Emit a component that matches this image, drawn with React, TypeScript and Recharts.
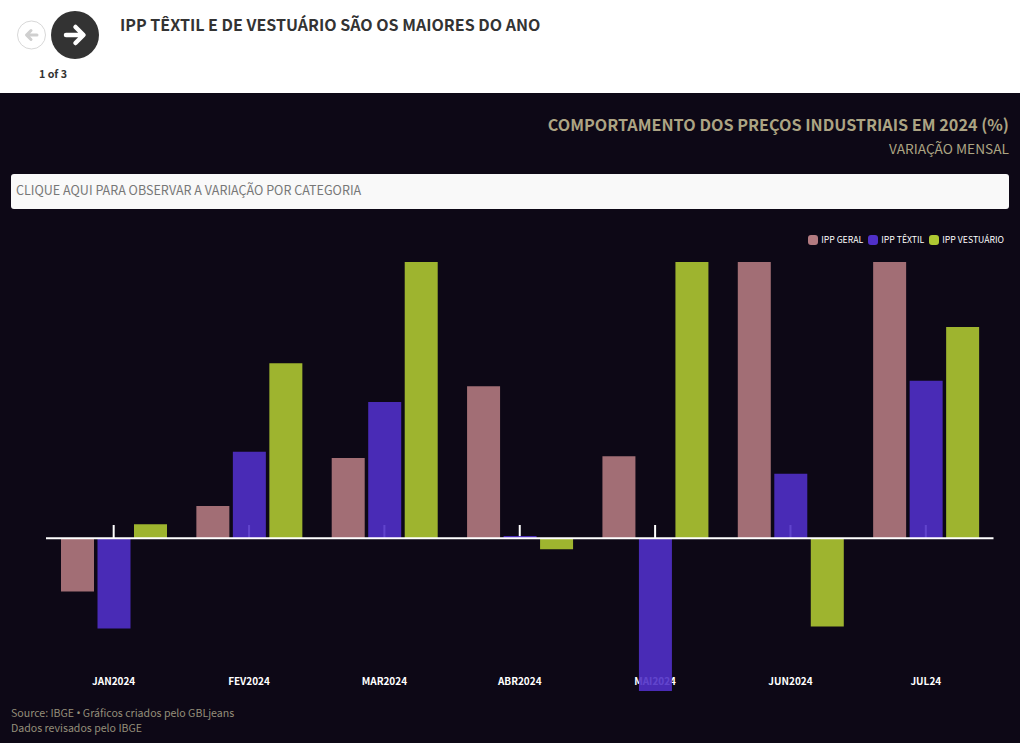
import React from "react";
import { BarChart, Bar, XAxis, YAxis, ReferenceLine, Legend } from "recharts";

const categories = ["JAN2024", "FEV2024", "MAR2024", "ABR2024", "MAI2024", "JUN2024", "JUL24"];
const ippGeral = [-0.29, 0.175, 0.435, 0.825, 0.445, 1.9, 1.62];
const ippTextil = [-0.49, 0.47, 0.74, 0.012, -0.83, 0.35, 0.855];
const ippVestuario = [0.075, 0.95, 1.6, -0.06, 1.7, -0.48, 1.147];
const data = categories.map((mes, i) => ({ mes, geral: ippGeral[i], textil: ippTextil[i], vestuario: ippVestuario[i] }));

const FONT = '"Noto Sans CJK SC", "Noto Sans", sans-serif';
const BG = "#0d0816";
const BASELINE = 538;
const LABEL_Y = 685;
const DOMAIN: [number, number] = [-0.83, 1.5];

const AxisTick = (props: any) => {
  const { x, payload } = props;
  return (
    <g>
      <line x1={x} x2={x} y1={BASELINE - 13} y2={BASELINE} stroke="#ffffff" strokeWidth={2} />
      <text x={x} y={LABEL_Y} textAnchor="middle" fill="#ffffff" fontSize={10} fontWeight={700} fontFamily={FONT}>
        {payload.value}
      </text>
    </g>
  );
};

const LegendContent = (props: any) => (
  <div style={{ display: "flex", justifyContent: "flex-end", alignItems: "center", fontFamily: FONT, fontSize: 8.7, color: "#ffffff" }}>
    {props.payload.map((e: any) => (
      <span key={e.value} style={{ display: "inline-flex", alignItems: "center", marginLeft: 5 }}>
        <span style={{ width: 10, height: 10, borderRadius: 3, background: e.color, marginRight: 3, display: "inline-block" }} />
        {e.value}
      </span>
    ))}
  </div>
);

export default function App() {
  return (
    <div style={{ position: "absolute", left: 0, top: 0, width: 1020, height: 743, overflow: "hidden", background: BG, fontFamily: FONT }}>
      <div style={{ position: "absolute", left: 0, top: 0, width: 1020, height: 93, background: "#ffffff" }}>
        <svg width={110} height={93} style={{ position: "absolute", left: 0, top: 0 }}>
          <circle cx={31.5} cy={35} r={14} fill="#fff" stroke="#d8d8d8" strokeWidth={1} />
          <path d="M37 35 H27 M31 30.5 L26.5 35 L31 39.5" fill="none" stroke="#cfcfcf" strokeWidth={3} strokeLinecap="round" strokeLinejoin="round" />
          <circle cx={75} cy={35} r={24} fill="#333333" />
          <path d="M66 35 H82 M75.5 27 L83.5 35 L75.5 43" fill="none" stroke="#ffffff" strokeWidth={4.5} strokeLinecap="round" strokeLinejoin="round" />
        </svg>
        <div style={{ position: "absolute", left: 39, top: 66, fontSize: 10.7, fontWeight: 700, color: "#333", lineHeight: "15px" }}>1 of 3</div>
        <div style={{ position: "absolute", left: 120, top: 12, fontSize: 16.05, fontWeight: 700, color: "#333", lineHeight: "24px", whiteSpace: "nowrap" }}>
          IPP TÊXTIL E DE VESTUÁRIO SÃO OS MAIORES DO ANO
        </div>
      </div>
      <div style={{ position: "absolute", right: 11, top: 112, fontSize: 16.2, fontWeight: 700, color: "#aca483", lineHeight: "24px", whiteSpace: "nowrap" }}>
        COMPORTAMENTO DOS PREÇOS INDUSTRIAIS EM 2024 (%)
      </div>
      <div style={{ position: "absolute", right: 11, top: 137, fontSize: 13.7, color: "#aca483", lineHeight: "22px", whiteSpace: "nowrap" }}>
        VARIAÇÃO MENSAL
      </div>
      <div style={{ position: "absolute", left: 11, top: 174, width: 993, height: 35, background: "#f9f9f9", borderRadius: 3, color: "#777", fontSize: 12.55, lineHeight: "31px", paddingLeft: 5, boxSizing: "content-box" }}>
        CLIQUE AQUI PARA OBSERVAR A VARIAÇÃO POR CATEGORIA
      </div>
      {/* Axis ticks and month labels sit beneath the translucent bars */}
      <div style={{ position: "absolute", left: 0, top: 0 }}>
        <BarChart width={1020} height={743} data={data} margin={{ top: 262, right: 26.5, bottom: 51, left: 46 }}>
          <XAxis dataKey="mes" interval={0} axisLine={false} tickLine={false} height={1} tick={<AxisTick />} />
          <YAxis hide width={0} domain={DOMAIN} allowDataOverflow />
        </BarChart>
      </div>
      <div style={{ position: "absolute", left: 0, top: 0 }}>
        <BarChart width={1020} height={743} data={data} margin={{ top: 262, right: 26.5, bottom: 52, left: 46 }} barSize={33} barGap={3.5}>
          <XAxis dataKey="mes" hide />
          <YAxis hide width={0} domain={DOMAIN} allowDataOverflow />
          <Legend
            verticalAlign="middle"
            layout="horizontal"
            content={<LegendContent />}
            wrapperStyle={{ position: "absolute", top: 233, left: "auto", right: 16, bottom: "auto", width: "auto", height: 16 }}
          />
          <Bar dataKey="geral" name="IPP GERAL" fill="#b27a80" fillOpacity={0.9} isAnimationActive={false} />
          <Bar dataKey="textil" name="IPP TÊXTIL" fill="#5030c8" fillOpacity={0.9} isAnimationActive={false} />
          <Bar dataKey="vestuario" name="IPP VESTUÁRIO" fill="#aec832" fillOpacity={0.9} isAnimationActive={false} />
          <ReferenceLine y={0} stroke="#ffffff" strokeWidth={2} />
        </BarChart>
      </div>
      <div style={{ position: "absolute", left: 11, top: 706, fontSize: 10.6, color: "#958f7a", lineHeight: "14.5px" }}>
        Source: IBGE <span style={{ fontFamily: '"Noto Sans", sans-serif' }}>•</span> Gráficos criados pelo GBLjeans
        <br />
        Dados revisados pelo IBGE
      </div>
    </div>
  );
}
